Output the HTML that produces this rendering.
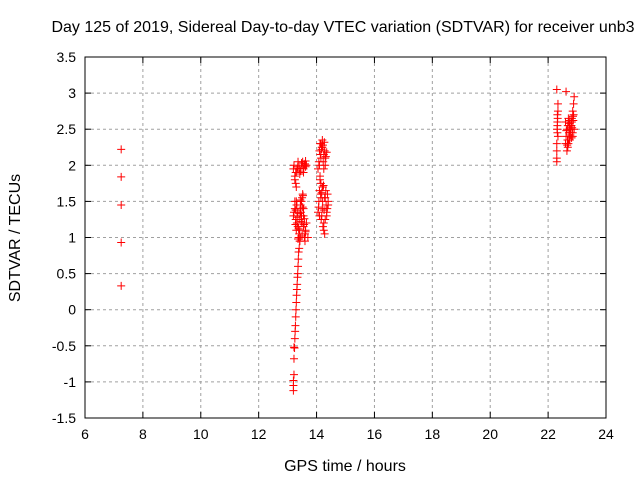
<!DOCTYPE html>
<html><head><meta charset="utf-8"><style>
body{margin:0;background:#fff}
svg{display:block;font-family:"Liberation Sans",sans-serif}
</style></head><body>
<svg id="c" width="640" height="480">
<text x="343" y="32" font-size="16" text-anchor="middle">Day 125 of 2019, Sidereal Day-to-day VTEC variation (SDTVAR) for receiver unb3</text>
<text x="345" y="471" font-size="16" text-anchor="middle">GPS time / hours</text>
<text transform="translate(20,238) rotate(-90)" font-size="16" text-anchor="middle">SDTVAR / TECUs</text>
<g id="grid"></g><g id="axes"></g><g id="pts"></g>
</svg>
<script>
const xTicks=[6,8,10,12,14,16,18,20,22,24];
const yTicks=[3.5,3,2.5,2,1.5,1,0.5,0,-0.5,-1,-1.5];
const times=[7.25,7.25,7.25,7.25,7.25,
13.2,13.2,13.2,13.22,13.22,13.22,13.24,13.25,13.26,13.27,13.28,13.29,13.3,13.31,13.32,13.33,13.34,13.35,13.36,13.37,13.38,13.4,13.42,13.44,
13.2,13.22,13.25,13.28,13.3,13.33,13.36,13.45,13.5,13.52,13.55,13.58,13.6,13.62,13.65,13.3,13.25,13.28,13.4,13.42,13.48,13.55,13.62,13.35,
13.2,13.22,13.25,13.28,13.3,13.32,13.35,13.38,13.4,13.42,13.45,13.48,13.5,13.52,13.55,13.58,13.6,13.62,13.65,13.7,13.3,13.35,13.4,13.45,13.5,13.55,13.6,13.25,13.32,13.42,13.48,13.55,
13.28,13.33,13.38,13.43,13.47,13.52,13.57,13.62,13.36,13.44,13.5,13.58,13.27,13.31,13.46,13.53,
14.05,14.08,14.1,14.12,14.15,14.18,14.2,14.22,14.25,14.28,14.3,14.35,14.1,14.15,14.2,14.25,14.3,14.13,14.17,14.23,14.27,14.32,
14.05,14.08,14.1,14.12,14.15,14.18,14.2,14.22,14.25,14.28,14.3,14.33,14.35,14.38,14.4,14.1,14.15,14.2,14.25,14.3,14.35,14.4,14.12,14.18,14.22,14.28,
14.07,14.14,14.21,14.26,14.32,14.37,14.16,14.24,
22.3,22.3,22.3,22.32,22.32,22.32,22.34,22.34,22.3,22.32,22.34,22.3,22.33,22.31,
22.6,22.62,22.65,22.68,22.7,22.72,22.75,22.78,22.8,22.82,22.85,22.88,22.9,22.6,22.65,22.7,22.75,22.8,22.85,22.9,22.62,22.68,22.72,22.78,22.82,22.88,22.7,22.75,22.8,22.85,
22.63,22.67,22.73,22.77,22.83,22.87,22.66,22.74,22.81,22.86];
const values=[2.22,1.84,1.45,0.93,0.33,
-1.12,-1.05,-0.98,-0.9,-0.68,-0.52,-0.53,-0.4,-0.3,-0.22,-0.1,0.0,0.1,0.2,0.28,0.35,0.45,0.5,0.6,0.7,0.8,0.85,0.95,1.0,
1.95,2.0,1.85,1.75,1.9,1.95,2.05,1.92,2.0,2.05,1.95,2.0,2.02,1.98,2.0,1.7,1.8,1.9,1.96,1.88,2.03,1.9,2.06,1.98,
1.3,1.35,1.4,1.25,1.1,1.2,1.15,1.0,1.05,1.1,1.45,1.5,1.55,1.6,1.3,1.0,0.95,1.1,1.2,1.0,1.5,1.35,1.25,1.4,1.2,1.15,1.05,1.5,1.45,0.95,1.3,1.4,
1.38,1.28,1.12,1.33,1.22,1.42,1.18,1.08,0.98,1.52,1.02,1.26,1.18,1.45,1.35,1.58,
1.95,2.05,2.2,2.3,2.1,2.25,2.35,2.28,2.15,2.2,2.0,2.18,2.0,2.3,2.25,1.95,2.1,2.15,2.22,2.05,2.32,2.12,
1.35,1.5,1.65,1.8,1.75,1.3,1.4,1.7,1.2,1.05,1.55,1.45,1.35,1.6,1.5,1.3,1.55,1.7,1.1,1.25,1.3,1.45,1.85,1.62,1.15,1.55,
1.42,1.6,1.5,1.38,1.65,1.4,1.25,1.72,
2.05,2.2,2.3,2.45,2.6,2.7,2.75,2.85,3.05,2.55,2.4,2.1,2.65,2.5,
2.3,2.4,2.5,2.55,2.6,2.45,2.35,2.5,2.6,2.65,2.75,2.85,2.95,2.6,2.2,2.3,2.45,2.55,2.4,2.5,3.02,2.25,2.35,2.5,2.6,2.7,2.65,2.62,2.55,2.45,
2.48,2.35,2.58,2.42,2.52,2.62,2.28,2.55,2.38,2.68];
const L=85,R=606,T=57,B=418;
const X=h=>L+(h-6)/18*(R-L), Y=v=>T+(3.5-v)/5*(B-T);
const NS="http://www.w3.org/2000/svg";
function mk(tag,attrs,parent){const e=document.createElementNS(NS,tag);for(const k in attrs)e.setAttribute(k,attrs[k]);document.getElementById(parent).appendChild(e);return e;}
xTicks.forEach(t=>{const x=X(t);
 if(t>6&&t<24){const g=mk('line',{x1:x,x2:x,y1:T,y2:B,stroke:'#a0a0a0','stroke-dasharray':'3,3'},'grid');
 
 }
 mk('line',{x1:x,x2:x,y1:B,y2:B-6,stroke:'#000'},'axes');mk('line',{x1:x,x2:x,y1:T,y2:T+6,stroke:'#000'},'axes');
 const tx=mk('text',{x:x,y:B+21,'font-size':14,'text-anchor':'middle'},'axes');tx.textContent=t;
 
 });
yTicks.forEach(t=>{const y=Y(t);
 if(t<3.5&&t>-1.5){const g=mk('line',{x1:L,x2:R,y1:y,y2:y,stroke:'#a0a0a0','stroke-dasharray':'3,3'},'grid');
 
 }
 mk('line',{x1:L,x2:L+6,y1:y,y2:y,stroke:'#000'},'axes');mk('line',{x1:R,x2:R-6,y1:y,y2:y,stroke:'#000'},'axes');
 const tx=mk('text',{x:L-9,y:y+5,'font-size':14,'text-anchor':'end'},'axes');tx.textContent=t;
 
 });
const fr=mk('rect',{x:L,y:T,width:R-L,height:B-T,fill:'none',stroke:'#000'},'axes');


times.forEach((h,i)=>{const x=X(h),y=Y(values[i]);
 const p=mk('path',{d:`M${x-4},${y}h8M${x},${y-4}v8`,stroke:'#f00','stroke-width':1},'pts');
 
 });
</script>
</body></html>
